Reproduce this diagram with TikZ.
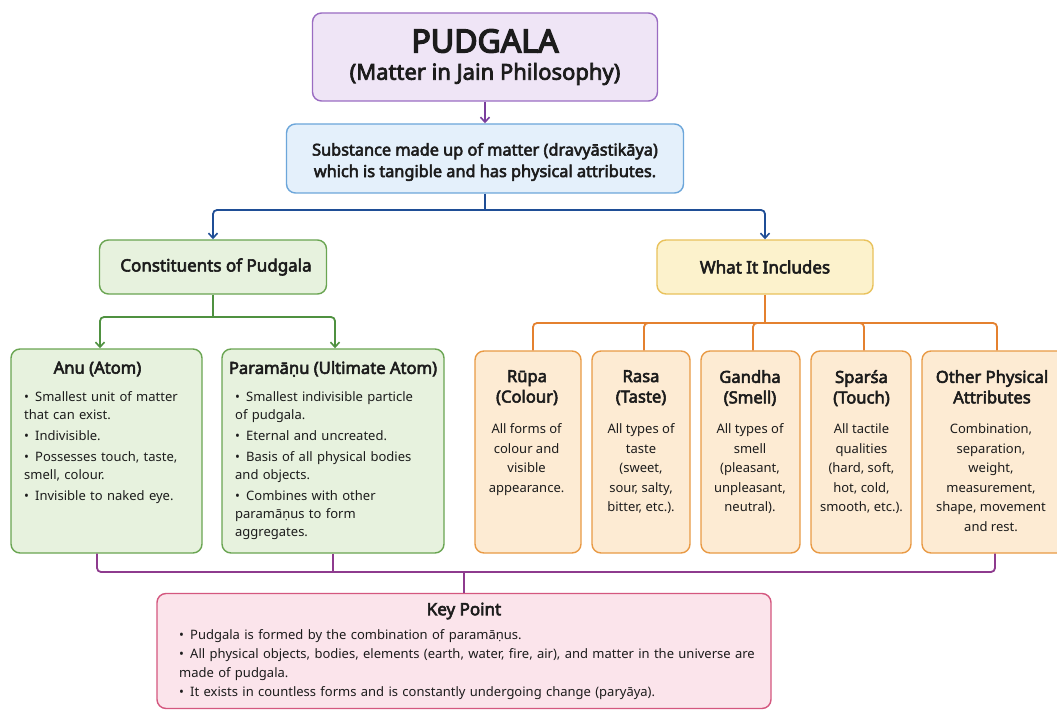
\documentclass[tikz,border=0pt]{standalone}
\usepackage{fontspec}
\setmainfont{Noto Sans}[AutoFakeBold=3.3]
\newfontfamily\heavyfont{Noto Sans}[FakeBold=4.5]
\usetikzlibrary{arrows.meta}
\definecolor{txt}{HTML}{1C1C1C}
\definecolor{topF}{HTML}{EFE5F6}\definecolor{topB}{HTML}{9A6CC2}\definecolor{topA}{HTML}{7A3E9D}
\definecolor{bluF}{HTML}{E4F0FB}\definecolor{bluB}{HTML}{6CA6DA}\definecolor{bluA}{HTML}{1F4E96}
\definecolor{grnF}{HTML}{E7F2DE}\definecolor{grnB}{HTML}{6AA552}\definecolor{grnA}{HTML}{4F9140}
\definecolor{yelF}{HTML}{FCF2CC}\definecolor{yelB}{HTML}{E9C25C}
\definecolor{orgF}{HTML}{FDEBD3}\definecolor{orgB}{HTML}{E99A45}\definecolor{orgA}{HTML}{E4812F}
\definecolor{pnkF}{HTML}{FBE4EB}\definecolor{pnkB}{HTML}{D4577F}
\definecolor{botA}{HTML}{8E3B8E}
\newcommand\bitm[1]{\par\noindent\hangindent=11pt\hangafter=1\makebox[11pt][l]{\textbullet}#1\par}
\tikzset{
  box/.style={draw, rounded corners=9pt, line width=1.4pt, inner sep=0pt},
  topbox/.style={box, draw=topB, fill=topF},
  blubox/.style={box, draw=bluB, fill=bluF},
  grnbox/.style={box, draw=grnB, fill=grnF},
  yelbox/.style={box, draw=yelB, fill=yelF},
  orgbox/.style={box, draw=orgB, fill=orgF},
  pnkbox/.style={box, draw=pnkB, fill=pnkF},
  conn/.style={line width=1.8pt, rounded corners=4pt},
  arr/.style={conn, -{Straight Barb[length=5pt,width=9pt,line width=1.6pt]}},
  ttl/.style={inner sep=0pt, text=txt, align=center, font=\bfseries\fontsize{16.6}{20.5}\selectfont},
  hdr/.style={inner sep=0pt, text=txt, align=center, font=\bfseries\fontsize{17}{20}\selectfont},
  list/.style={anchor=north west, inner sep=0pt, align=left, text=txt, font=\fontsize{13}{18}\selectfont},
  desc/.style={anchor=north, inner sep=0pt, align=center, text=txt, font=\fontsize{13}{19.5}\selectfont},
}
\begin{document}
\begin{tikzpicture}[x=1pt,y=-1pt]
\useasboundingbox (0,0) rectangle (1057,711);
\fill[white] (0,0) rectangle (1057,711);
\clip (0,0) rectangle (1057,711);
% boxes
\node[topbox, minimum width=345pt, minimum height=88pt] (top) at (485,57) {};
\node[blubox, minimum width=397pt, minimum height=69pt] (sub) at (485,158.5) {};
\node[grnbox, minimum width=227pt, minimum height=54pt] (cons) at (213,267) {};
\node[yelbox, minimum width=216pt, minimum height=54pt] (incl) at (765,267) {};
\node[grnbox, minimum width=191pt, minimum height=204pt] (anu) at (106.5,451) {};
\node[grnbox, minimum width=222pt, minimum height=204pt] (param) at (333,451) {};
\node[orgbox, minimum width=106pt, minimum height=202pt] (rupa) at (528,452) {};
\node[orgbox, minimum width=98pt, minimum height=202pt] (rasa) at (641,452) {};
\node[orgbox, minimum width=99pt, minimum height=202pt] (gandha) at (750.5,452) {};
\node[orgbox, minimum width=100pt, minimum height=202pt] (sparsa) at (861,452) {};
\node[orgbox, minimum width=150pt, minimum height=202pt] (other) at (997,452) {};
\node[pnkbox, minimum width=614pt, minimum height=115pt] (key) at (464,651) {};
% texts
\node[inner sep=0pt, text=txt, font=\heavyfont\fontsize{32}{36}\selectfont] (topT) at (485,41) {PUDGALA};
\node[inner sep=0pt, text=txt, font=\bfseries\fontsize{22}{26}\selectfont] (topS) at (485,74) {(Matter in Jain Philosophy)};
\node[inner sep=0pt, text=txt, align=center, font=\bfseries\fontsize{16.3}{21.5}\selectfont] (subT) at (485,162) {Substance made up of matter (dravyāstikāya)\\which is tangible and has physical attributes.};
\node[hdr] (consT) at (216,267) {Constituents of Pudgala};
\node[hdr] (inclT) at (765,267) {What It Includes};
\node[ttl] (anuT) at (97.5,369) {Anu (Atom)};
\node[ttl] (paramT) at (333,369) {Paramāṇu (Ultimate Atom)};
\node[list, text width=178pt] (anuL) at (24,380) {\setlength\parskip{3pt}%
\bitm{Smallest unit of matter\\that can exist.}
\bitm{Indivisible.}
\bitm{Possesses touch, taste,\\smell, colour.}
\bitm{Invisible to naked eye.}};
\node[list, text width=205pt] (paramL) at (235,380) {\setlength\parskip{3pt}%
\bitm{Smallest indivisible particle\\of pudgala.}
\bitm{Eternal and uncreated.}
\bitm{Basis of all physical bodies\\and objects.}
\bitm{Combines with other\\paramāṇus to form\\aggregates.}};
\node[ttl, anchor=north] (rupaT) at (527,370) {Rūpa\\(Colour)};
\node[ttl, anchor=north] (rasaT) at (641,370) {Rasa\\(Taste)};
\node[ttl, anchor=north] (gandhaT) at (750,370) {Gandha\\(Smell)};
\node[ttl, anchor=north] (sparsaT) at (861.5,370) {Sparśa\\(Touch)};
\node[ttl, anchor=north] (otherT) at (992,370) {Other Physical\\Attributes};
\node[desc] (rupaD) at (526.6,423.5) {All forms of\\colour and\\visible\\appearance.};
\node[desc] (rasaD) at (641,423.5) {All types of\\taste\\(sweet,\\sour, salty,\\bitter, etc.).};
\node[desc] (gandhaD) at (750,423.5) {All types of\\smell\\(pleasant,\\unpleasant,\\neutral).};
\node[desc] (sparsaD) at (861.5,423.5) {All tactile\\qualities\\(hard, soft,\\hot, cold,\\smooth, etc.).};
\node[desc] (otherD) at (991,423.5) {Combination,\\separation,\\weight,\\measurement,\\shape, movement\\and rest.};
\node[hdr] (keyT) at (464,611) {Key Point};
\node[list, text width=600pt, font=\fontsize{13}{19}\selectfont] (keyL) at (179,620.5) {%
\bitm{Pudgala is formed by the combination of paramāṇus.}
\bitm{All physical objects, bodies, elements (earth, water, fire, air), and matter in the universe are\\made of pudgala.}
\bitm{It exists in countless forms and is constantly undergoing change (paryāya).}};
% connectors
\draw[arr, draw=topA] (top.south) -- (sub.north);
\coordinate (bj) at (485,210);
\draw[conn, draw=bluA] (sub.south) -- (bj);
\draw[arr, draw=bluA] (bj) -| (cons.north);
\draw[arr, draw=bluA] (bj) -| (incl.north);
\coordinate (gj) at (213,317);
\draw[conn, draw=grnA] (cons.south) -- (gj);
\draw[arr, draw=grnA] (gj) -| ([xshift=-6.5pt]anu.north);
\draw[arr, draw=grnA] (gj) -| ([xshift=2pt]param.north);
\coordinate (oj) at (765,323);
\draw[conn, draw=orgA] (incl.south) -- (oj);
\draw[conn, draw=orgA] (oj) -| ([xshift=5pt]rupa.north);
\draw[conn, draw=orgA] (oj) -| ([xshift=3pt]rasa.north);
\draw[conn, draw=orgA] (oj) -| ([xshift=2.5pt]gandha.north);
\draw[conn, draw=orgA] (oj) -| ([xshift=3pt]sparsa.north);
\draw[conn, draw=orgA] (oj) -| (other.north);
\coordinate (pj) at (464,572);
\draw[conn, draw=botA] ([xshift=-9.5pt]anu.south) |- (pj);
\draw[conn, draw=botA] (pj) -| ([xshift=-2pt]other.south);
\draw[conn, draw=botA] (param.south) -- (param.south |- pj);
\draw[conn, draw=botA] (pj) -- (key.north);
\end{tikzpicture}
\end{document}
